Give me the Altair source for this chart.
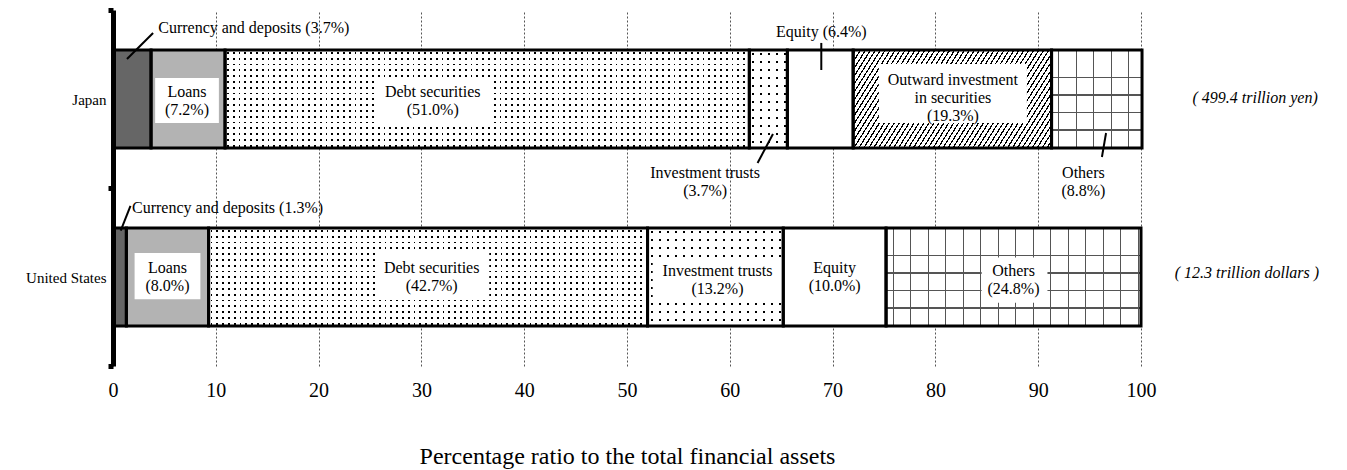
import math
import altair as alt
import pandas as pd

# ---------------- data ----------------
countries = ["Japan", "United States"]
jp_items = ["Currency and deposits", "Loans", "Debt securities", "Investment trusts",
            "Equity", "Outward investment in securities", "Others"]
jp_values = [3.7, 7.2, 51.0, 3.7, 6.4, 19.3, 8.8]
us_items = ["Currency and deposits", "Loans", "Debt securities", "Investment trusts",
            "Equity", "Others"]
us_values = [1.3, 8.0, 42.7, 13.2, 10.0, 24.8]
totals = ["( 499.4 trillion yen)", "( 12.3 trillion dollars )"]
x_ticks = [0, 10, 20, 30, 40, 50, 60, 70, 80, 90, 100]
x_title = "Percentage ratio to the total financial assets"

# label text pieces
inside_country = ["Japan", "Japan", "Japan", "United States", "United States",
                  "United States", "United States", "United States"]
inside_item = ["Loans", "Debt securities", "Outward investment in securities", "Loans",
               "Debt securities", "Investment trusts", "Equity", "Others"]
outside_country = ["Japan", "Japan", "Japan", "Japan", "United States"]
outside_item = ["Currency and deposits", "Equity", "Investment trusts", "Others",
                "Currency and deposits"]

# ---------------- layout constants (style) ----------------
W, H = 1028, 356
BAR_H = 98
PX = W / 100.0
FONT = "Liberation Serif"

value_of = {}
rows = []
for c, items, vals in ((countries[0], jp_items, jp_values), (countries[1], us_items, us_values)):
    s = 0.0
    for it, v in zip(items, vals):
        rows.append(dict(country=c, item=it, value=v, start=round(s, 2), end=round(s + v, 2)))
        value_of[(c, it)] = v
        s += v
seg = pd.DataFrame(rows)

solid = {"Currency and deposits": "#666666", "Loans": "#b3b3b3"}
all_items = jp_items
fill_range = [solid.get(i, "white") for i in all_items]

xscale = alt.Scale(domain=[0, 100], nice=False, zero=False)
yband = alt.Scale(domain=countries, paddingInner=0, paddingOuter=0)
yq = alt.Scale(domain=[0, 2], reverse=True, nice=False, zero=False)

xaxis = alt.Axis(values=x_ticks, grid=True, gridDash=[2, 2], gridColor="#555555", gridWidth=1,
                 domain=False, ticks=False, tickSize=0, labelFont=FONT, labelFontSize=20,
                 labelColor="black", labelPadding=14, labelFlush=False,
                 title=x_title, titleFont=FONT, titleFontSize=24, titleFontWeight="normal",
                 titleColor="black", titlePadding=44)
yaxis = alt.Axis(title=None, tickBand="extent", domainColor="black", domainWidth=5,
                 tickColor="black", tickWidth=5, tickSize=5, labelFont=FONT, labelFontSize=15,
                 labelColor="black", labelPadding=2, zindex=1, grid=False)


def X(field):
    return alt.X(field, scale=xscale, axis=xaxis)


def lin(stops, x2, y2):
    return {"gradient": "linear", "x1": 0, "y1": 0, "x2": x2, "y2": y2,
            "stops": [{"offset": o, "color": c} for o, c in stops]}


def stripe_stops(length, period, thick, first, bg, fg):
    st = [(0.0, bg)]
    p = first
    while p - thick / 2 < length:
        a = max(p - thick / 2, 0) / length
        b = min(p + thick / 2, length) / length
        st += [(a, bg), (a, fg), (b, fg), (b, bg)]
        p += period
    st.append((1.0, bg))
    out = []
    last = 0.0
    for o, c in st:
        o = max(round(o, 5), last)
        out.append((o, c))
        last = o
    return out


def hatch(w, h, period, thick, angle_deg):
    th = math.radians(angle_deg)
    s, c = math.sin(th), math.cos(th)
    L = w * s + h * c
    S = (w * s) ** 2 + (h * c) ** 2
    k = L / S
    return lin(stripe_stops(L, period, thick, period / 2, "white", "black"),
               round(k * w * s, 5), round(k * h * c, 5))


CLEAR = "rgba(255,255,255,0)"


def seg_layer(country, item, fill):
    return alt.Chart(seg).transform_filter(
        (alt.datum.country == country) & (alt.datum.item == item)
    ).mark_bar(height=BAR_H, fill=fill, strokeWidth=0).encode(
        x=X("start:Q"),
        x2="end:Q",
        y=alt.Y("country:N", scale=yband, axis=yaxis),
    )


def dots(country, item, period, d):
    w = value_of[(country, item)] * PX
    a = lin(stripe_stops(w, period, d, period / 2, "white", "black"), 1, 0)
    b = lin(stripe_stops(BAR_H, period, d, period / 2, "white", CLEAR), 0, 1)
    return [seg_layer(country, item, a), seg_layer(country, item, b)]


def grid(country, item, period, t, col):
    w = value_of[(country, item)] * PX
    a = lin(stripe_stops(w, period, t, 7, "white", col), 1, 0)
    b = lin(stripe_stops(BAR_H, period, t, 10, CLEAR, col), 0, 1)
    return [seg_layer(country, item, a), seg_layer(country, item, b)]


base = alt.Chart(seg).mark_bar(height=BAR_H, strokeWidth=0).encode(
    x=X("start:Q"),
    x2="end:Q",
    y=alt.Y("country:N", scale=yband, axis=yaxis),
    fill=alt.Fill("item:N", scale=alt.Scale(domain=all_items, range=fill_range), legend=None),
)

patterns = []
patterns += dots("Japan", "Debt securities", 5.8, 1.8)
patterns += dots("Japan", "Investment trusts", 8.0, 2.0)
patterns += dots("United States", "Debt securities", 5.8, 1.8)
patterns += dots("United States", "Investment trusts", 8.0, 2.0)
patterns.append(seg_layer("Japan", "Outward investment in securities",
                          hatch(value_of[("Japan", "Outward investment in securities")] * PX,
                                BAR_H, 4.2, 1.2, 58)))
patterns += grid("Japan", "Others", 17.5, 1.0, "#555555")
patterns += grid("United States", "Others", 17.5, 1.0, "#555555")

outline = alt.Chart(seg).mark_bar(height=BAR_H, fill="transparent", stroke="black",
                                  strokeWidth=3).encode(
    x=X("start:Q"),
    x2="end:Q",
    y=alt.Y("country:N", scale=yband, axis=yaxis),
)

bars = alt.layer(base, *patterns, outline)

# ---------------- annotations ----------------
display = {"Outward investment in securities": "Outward investment\nin securities"}


def lab(c, it, sep):
    return f"{display.get(it, it)}{sep}({value_of[(c, it)]:.1f}%)"


# y of the first text line
inside_df = pd.DataFrame({
    "text": [lab(c, i, "\n") for c, i in zip(inside_country, inside_item)],
    "x": [7.2, 31.1, 81.7, 5.3, 31.0, 58.8, 70.2, 87.6],
    "y": [0.461, 0.461, 0.393, 1.449, 1.449, 1.466, 1.449, 1.466],
})
box_df = pd.DataFrame({
    "x0": [4.1, 25.6, 74.5, 2.1, 25.6, 52.5, 84.5],
    "x1": [10.3, 36.7, 88.9, 8.5, 36.6, 65.0, 90.9],
    "y0": [0.382, 0.382, 0.303, 1.365, 1.365, 1.39, 1.39],
    "y1": [0.635, 0.635, 0.635, 1.625, 1.625, 1.645, 1.645],
})
out_sep = [" ", " ", "\n", "\n", " "]
outside_df = pd.DataFrame({
    "text": [lab(c, i, s) for c, i, s in zip(outside_country, outside_item, out_sep)],
    "x": [4.4, 68.9, 57.6, 94.4, 1.85],
    "y": [0.101, 0.124, 0.916, 0.916, 1.112],
    "align": ["left", "center", "center", "center", "left"],
})
leader_df = pd.DataFrame({
    "x": [3.9, 68.9, 64.2, 96.6, 1.7],
    "x2": [1.36, 68.9, 62.7, 96.2, 0.75],
    "y": [0.129, 0.185, 0.697, 0.691, 1.10],
    "y2": [0.275, 0.337, 0.86, 0.826, 1.24],
})
totals_df = pd.DataFrame({"text": totals, "x": [111.1, 110.3], "y": [0.494, 1.478]})

boxes = alt.Chart(box_df).mark_rect(fill="white").encode(
    x=X("x0:Q"), x2="x1:Q",
    y=alt.Y("y0:Q", scale=yq, axis=None), y2="y1:Q")

inside = alt.Chart(inside_df).mark_text(font=FONT, fontSize=16, color="black", lineBreak="\n",
                                        lineHeight=18, align="center", baseline="middle").encode(
    x=X("x:Q"), y=alt.Y("y:Q", scale=yq, axis=None), text="text:N")

out_left = alt.Chart(outside_df).transform_filter(alt.datum.align == "left").mark_text(
    font=FONT, fontSize=16, color="black", align="left", baseline="middle").encode(
    x=X("x:Q"), y=alt.Y("y:Q", scale=yq, axis=None), text="text:N")
out_center = alt.Chart(outside_df).transform_filter(alt.datum.align == "center").mark_text(
    font=FONT, fontSize=16, color="black", align="center", baseline="middle", lineBreak="\n",
    lineHeight=18).encode(
    x=X("x:Q"), y=alt.Y("y:Q", scale=yq, axis=None), text="text:N")

leaders = alt.Chart(leader_df).mark_rule(color="black", strokeWidth=2).encode(
    x=X("x:Q"), x2="x2:Q",
    y=alt.Y("y:Q", scale=yq, axis=None), y2="y2:Q")

tot = alt.Chart(totals_df).mark_text(font=FONT, fontSize=16, fontStyle="italic", color="black",
                                     align="center", baseline="middle").encode(
    x=X("x:Q"), y=alt.Y("y:Q", scale=yq, axis=None), text="text:N")

ann = alt.layer(boxes, inside, out_left, out_center, leaders, tot)

chart = alt.layer(bars, ann).resolve_scale(y="independent").properties(
    width=W, height=H,
    padding={"left": 105, "top": 2, "right": 198, "bottom": 104},
    autosize=alt.AutoSizeParams(type="none"),
).configure_view(stroke=None)

chart.save("out.html", embed_options={"renderer": "svg", "actions": False})
